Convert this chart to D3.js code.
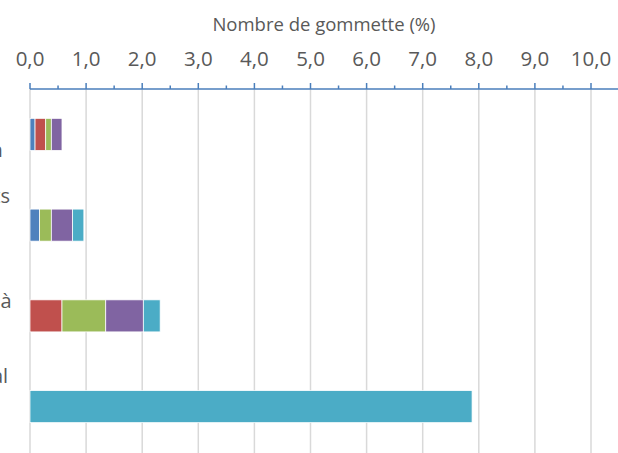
<!DOCTYPE html>
<html>
<head>
<meta charset="utf-8">
<script src="https://cdn.jsdelivr.net/npm/d3@7"></script>
<style>
  html, body { margin: 0; padding: 0; background: #fff; }
  svg { display: block; }
  text { font-family: "Open Sans", "Liberation Sans", sans-serif; fill: #595959; }
</style>
</head>
<body>
<svg id="chart" width="618" height="453"></svg>
<script>
// Categories (one stacked bar each) and the percentage of stickers per series
const categories = ["Conception", "Tests", "Au-delà", "Total"];
const seriesNames = ["Série 1", "Série 2", "Série 3", "Série 4", "Série 5"];
const serie1 = [0.09, 0.17, 0.00, 0.00];
const serie2 = [0.19, 0.00, 0.57, 0.00];
const serie3 = [0.10, 0.21, 0.78, 0.00];
const serie4 = [0.19, 0.38, 0.67, 0.00];
const serie5 = [0.00, 0.20, 0.30, 7.88];
const tickValues = [0, 1, 2, 3, 4, 5, 6, 7, 8, 9, 10];
const axisTitle = "Nombre de gommette (%)";

const colors = ["#4f81bd", "#c0504d", "#9bbb59", "#8064a2", "#4bacc6"];

const rows = categories.map((c, i) => ({
  cat: c,
  s0: serie1[i], s1: serie2[i], s2: serie3[i], s3: serie4[i], s4: serie5[i]
}));
const keys = ["s0", "s1", "s2", "s3", "s4"];
const stacked = d3.stack().keys(keys)(rows);

const svg = d3.select("#chart");
const x = d3.scaleLinear().domain([0, 11]).range([30, 30 + 11 * 56.1]);
const y = d3.scaleBand().domain(categories).range([89, 452])
  .paddingInner(0.647).paddingOuter(0.3235);

// vertical gridlines
svg.append("g").selectAll("line").data(tickValues).join("line")
  .attr("x1", d => x(d)).attr("x2", d => x(d))
  .attr("y1", 89).attr("y2", 453)
  .attr("stroke", "#d9d9d9").attr("stroke-width", 1.5);

// stacked bars
svg.append("g").selectAll("g").data(stacked).join("g")
  .attr("fill", (d, i) => colors[i])
  .selectAll("rect").data(d => d.filter(p => p[1] - p[0] > 0)).join("rect")
  .attr("x", d => x(d[0]))
  .attr("width", d => x(d[1]) - x(d[0]))
  .attr("y", d => y(d.data.cat))
  .attr("height", y.bandwidth())
  .attr("stroke", "#fff").attr("stroke-width", 0.75);

// top axis: line, major ticks on whole units, minor ticks on halves
const axisY = 89;
const axisG = svg.append("g");
axisG.append("line")
  .attr("x1", x(0)).attr("x2", 618)
  .attr("y1", axisY).attr("y2", axisY)
  .attr("stroke", "#4a7ebb").attr("stroke-width", 1.5);
axisG.selectAll("line.major").data(tickValues).join("line").attr("class", "major")
  .attr("x1", d => x(d)).attr("x2", d => x(d))
  .attr("y1", axisY).attr("y2", axisY - 6)
  .attr("stroke", "#4a7ebb").attr("stroke-width", 1.5);
axisG.selectAll("line.minor").data(tickValues.map(v => v + 0.5)).join("line").attr("class", "minor")
  .attr("x1", d => x(d)).attr("x2", d => x(d))
  .attr("y1", axisY).attr("y2", axisY - 3.5)
  .attr("stroke", "#4a7ebb").attr("stroke-width", 1.5);

const fmt = v => d3.format(".1f")(v).replace(".", ",");
axisG.selectAll("text").data(tickValues).join("text")
  .attr("x", d => x(d)).attr("y", 66)
  .attr("text-anchor", "middle")
  .attr("font-size", 20.5)
  .text(fmt);

// axis title
svg.append("text")
  .attr("x", 324).attr("y", 31)
  .attr("text-anchor", "middle")
  .attr("font-size", 18.5)
  .text(axisTitle);

// category labels, right-aligned so they run off the left edge;
// the last glyph starts at labelStart
const labelStart = [-9.5, 0.5, 0.5, 3];
const labelBase = [157, 203, 308, 383];
const catLabels = svg.append("g").selectAll("text").data(categories).join("text")
  .attr("y", (d, i) => labelBase[i])
  .attr("text-anchor", "end")
  .attr("font-size", 20)
  .text(d => d);
catLabels.each(function (d, i) {
  const probe = svg.append("text").attr("font-size", 20).text(d.slice(-1));
  const w = probe.node().getComputedTextLength();
  probe.remove();
  d3.select(this).attr("x", labelStart[i] + w);
});
</script>
</body>
</html>
